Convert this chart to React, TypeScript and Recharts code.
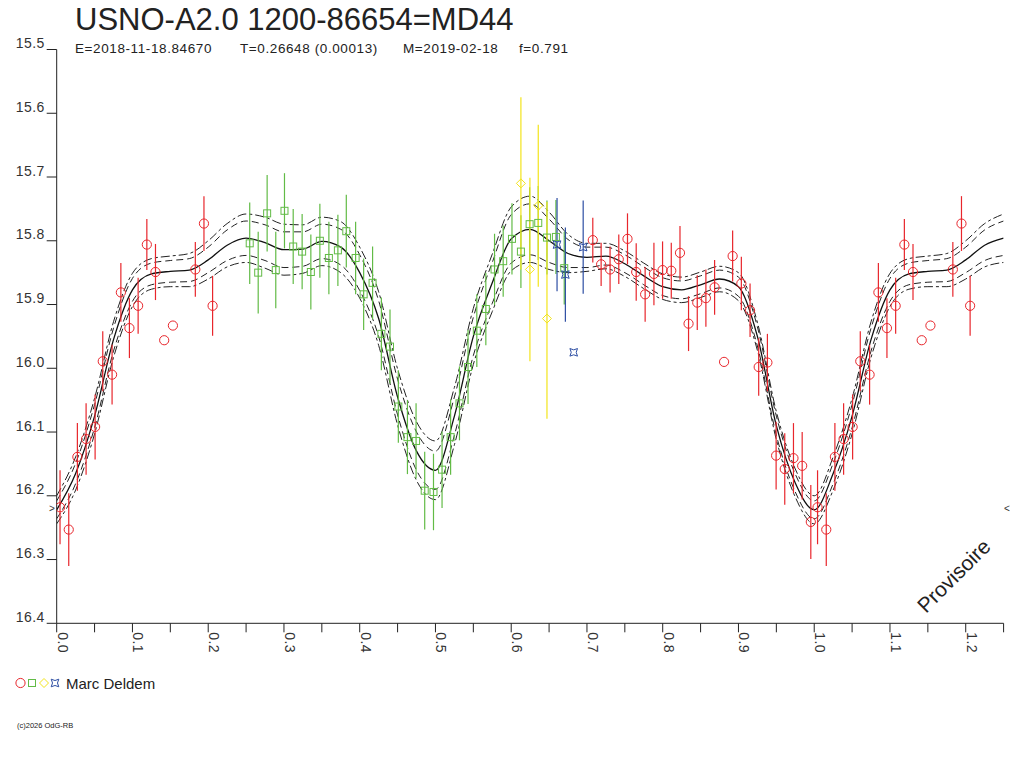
import React from 'react'
import { ComposedChart, Line, Scatter, XAxis, YAxis, ErrorBar } from 'recharts'

// observations: phase, magnitude, half error bar (0 = no bar)
const redPhase = [
  0.0044, 0.0159, 0.0273, 0.0388, 0.0507, 0.0608, 0.0731, 0.0847, 0.096, 0.1075,
  0.119, 0.1304, 0.1419, 0.1534, 0.183, 0.1944, 0.2058,
  0.7077, 0.7187, 0.7305, 0.742, 0.7535, 0.765, 0.7768, 0.7884, 0.7998, 0.8113,
  0.8228, 0.8341, 0.8456, 0.857, 0.8685, 0.881, 0.8923, 0.9038, 0.9153, 0.9267,
  0.9382, 0.9497, 0.9611, 0.9726, 0.9841, 0.9955,
]
const redMag = [
  16.218, 16.253, 16.139, 16.111, 16.092, 15.989, 16.01, 15.881, 15.937, 15.902,
  15.806, 15.849, 15.956, 15.933, 15.845, 15.773, 15.902,
  15.799, 15.837, 15.845, 15.829, 15.797, 15.849, 15.884, 15.852, 15.846, 15.847,
  15.819, 15.93, 15.897, 15.89, 15.873, 15.99, 15.824, 15.867, 15.909, 15.998,
  15.991, 16.137, 16.158, 16.141, 16.153, 16.241,
]
const redErr = [
  0.058, 0.057, 0.053, 0.056, 0.051, 0.047, 0.047, 0.046, 0.047, 0.044,
  0.04, 0.044, 0, 0, 0.043, 0.043, 0.047,
  0.035, 0.034, 0.036, 0.039, 0.04, 0.045, 0.043, 0.049, 0.045, 0.044,
  0.042, 0.043, 0.043, 0.045, 0.043, 0, 0.04, 0.042, 0.042, 0.045,
  0.045, 0.053, 0.056, 0.055, 0.053, 0.058,
]

const greenPhase = [
  0.2548, 0.266, 0.2778, 0.2892, 0.3007, 0.3122, 0.324, 0.3355, 0.3474, 0.3593,
  0.3712, 0.3823, 0.3946, 0.4052, 0.417, 0.4286, 0.44, 0.451, 0.463, 0.4744,
  0.4858, 0.4974, 0.5087, 0.52, 0.5317, 0.543, 0.5546, 0.5665, 0.578, 0.5894,
  0.601, 0.6128, 0.6243, 0.6357, 0.6472, 0.659, 0.67,
]
const greenMag = [
  15.804, 15.85, 15.757, 15.846, 15.753, 15.809, 15.817, 15.849, 15.8, 15.827,
  15.815, 15.785, 15.827, 15.884, 15.866, 15.946, 15.966, 16.06, 16.108, 16.114,
  16.192, 16.194, 16.159, 16.108, 16.055, 15.998, 15.941, 15.907, 15.845, 15.832,
  15.797, 15.817, 15.774, 15.772, 15.795, 15.794, 15.843,
]
const greenErr = [
  0.064, 0.064, 0.06, 0.06, 0.059, 0.059, 0.059, 0.059, 0.058, 0.057,
  0.056, 0.057, 0.057, 0.056, 0.057, 0.057, 0.058, 0.057, 0.058, 0.059,
  0.061, 0.06, 0.06, 0.059, 0.058, 0.058, 0.057, 0.057, 0.056, 0.056,
  0.056, 0.057, 0.058, 0.058, 0.058, 0.058, 0.057,
]

const yellowPhase = [0.6128, 0.6247, 0.6357, 0.6472]
const yellowMag = [15.71, 15.845, 15.745, 15.922]
const yellowErr = [[0.135, 0.135], [0.144, 0.144], [0.127, 0.127], [0.183, 0.157]]

const bluePhase = [0.6605, 0.6715, 0.6825, 0.695]
const blueMag = [15.806, 15.853, 15.975, 15.81]
const blueErr = [0.073, 0.074, 0, 0.073]

// fitted light curve over one cycle, step 0.025
const fitPhase = [
  0, 0.025, 0.05, 0.075, 0.1, 0.125, 0.15, 0.175, 0.2, 0.225,
  0.25, 0.275, 0.3, 0.325, 0.35, 0.375, 0.4, 0.425, 0.45, 0.475,
  0.5, 0.525, 0.55, 0.575, 0.6, 0.625, 0.65, 0.675, 0.7, 0.725,
  0.75, 0.775, 0.8, 0.825, 0.85, 0.875, 0.9, 0.925, 0.95, 0.975, 1,
]
const fitMag = [
  16.222, 16.165, 16.075, 15.955, 15.877, 15.852, 15.848, 15.846, 15.83, 15.807,
  15.796, 15.803, 15.814, 15.813, 15.801, 15.81, 15.85, 15.922, 16.045, 16.13,
  16.16, 16.075, 15.95, 15.866, 15.797, 15.782, 15.8, 15.82, 15.826, 15.824,
  15.836, 15.855, 15.872, 15.877, 15.869, 15.86, 15.872, 15.95, 16.09, 16.18, 16.222,
]
const innerHalf = [
  0.014, 0.016, 0.018, 0.018, 0.018, 0.017, 0.017, 0.018, 0.02, 0.024,
  0.027, 0.028, 0.028, 0.027, 0.027, 0.028, 0.028, 0.028, 0.028, 0.03,
  0.03, 0.03, 0.03, 0.032, 0.038, 0.04, 0.034, 0.022, 0.016, 0.014,
  0.014, 0.014, 0.014, 0.014, 0.014, 0.014, 0.015, 0.015, 0.015, 0.014, 0.014,
]
const outerHalf = [
  0.022, 0.026, 0.028, 0.028, 0.026, 0.024, 0.024, 0.026, 0.03, 0.034,
  0.038, 0.04, 0.04, 0.038, 0.038, 0.04, 0.04, 0.042, 0.044, 0.046,
  0.046, 0.045, 0.044, 0.045, 0.05, 0.052, 0.045, 0.03, 0.022, 0.02,
  0.02, 0.02, 0.02, 0.02, 0.02, 0.02, 0.022, 0.022, 0.022, 0.022, 0.022,
]

const xTicks = [
  0, 0.05, 0.1, 0.15, 0.2, 0.25, 0.3, 0.35, 0.4, 0.45, 0.5, 0.55, 0.6,
  0.65, 0.7, 0.75, 0.8, 0.85, 0.9, 0.95, 1, 1.05, 1.1, 1.15, 1.2, 1.25,
]
const yTicks = [15.5, 15.6, 15.7, 15.8, 15.9, 16.0, 16.1, 16.2, 16.3, 16.4]

const RED = '#e8262c'
const GREEN = '#62bb46'
const YELLOW = '#f3e41c'
const BLUE = '#2d4ea3'
const INK = '#222'
const FONT = '"Liberation Sans", Arial, sans-serif'

const toPoints = (ph: number[], mag: number[], err: any[]) =>
  ph.map((p, i) => ({ x: p, y: mag[i], err: err[i] }))

// phases below 0.25 are drawn again one cycle later
const withRepeat = (pts: { x: number; y: number; err: any }[]) => [
  ...pts,
  ...pts.filter((p) => p.x + 1 <= 1.25).map((p) => ({ ...p, x: +(p.x + 1).toFixed(4) })),
]

const redData = withRepeat(toPoints(redPhase, redMag, redErr))
const greenData = withRepeat(toPoints(greenPhase, greenMag, greenErr))
const yellowData = toPoints(yellowPhase, yellowMag, yellowErr)
const blueData = toPoints(bluePhase, blueMag, blueErr)

const fitIdx = [...fitPhase.map((p, i) => ({ p, i })), ...fitPhase.slice(1, 11).map((p, k) => ({ p: p + 1, i: k + 1 }))]
const fitData = fitIdx.map(({ p, i }) => ({
  x: +p.toFixed(3),
  c: fitMag[i],
  iu: fitMag[i] - innerHalf[i],
  il: fitMag[i] + innerHalf[i],
  ou: fitMag[i] - outerHalf[i],
  ol: fitMag[i] + outerHalf[i],
}))

const Circle = (props: any) => (
  <circle cx={props.cx} cy={props.cy} r={4.6} fill="none" stroke={RED} strokeWidth={1} />
)
const Square = (props: any) => (
  <rect x={props.cx - 3.5} y={props.cy - 3.5} width={7} height={7} fill="none" stroke={GREEN} strokeWidth={1} />
)
const Diamond = (props: any) => (
  <path
    d={`M${props.cx} ${props.cy - 4.5}L${props.cx + 4.5} ${props.cy}L${props.cx} ${props.cy + 4.5}L${props.cx - 4.5} ${props.cy}Z`}
    fill="none"
    stroke={YELLOW}
    strokeWidth={1}
  />
)
const starPath = (cx: number, cy: number, r: number) =>
  `M${cx - r} ${cy - r}Q${cx} ${cy - r * 0.3} ${cx + r} ${cy - r}Q${cx + r * 0.3} ${cy} ${cx + r} ${cy + r}` +
  `Q${cx} ${cy + r * 0.3} ${cx - r} ${cy + r}Q${cx - r * 0.3} ${cy} ${cx - r} ${cy - r}Z`
const Star = (props: any) => (
  <path d={starPath(props.cx, props.cy, 3.8)} fill="none" stroke={BLUE} strokeWidth={1} />
)

const YTick = ({ x, y, payload }: any) => (
  <text x={x} y={y - 1.5} textAnchor="end" fontSize={14} fill="#333" fontFamily={FONT} letterSpacing={0.4}>
    {payload.value.toFixed(1)}
  </text>
)

const XTick = ({ x, y, payload }: any) => {
  const v = payload.value
  if (Math.round(v * 100) % 10 !== 0) return null
  const ty = y - 2
  return (
    <text
      x={x + 0.8}
      y={ty}
      transform={`rotate(90 ${x + 0.8} ${ty})`}
      textAnchor="start"
      fontSize={14}
      fill="#333"
      fontFamily={FONT}
      letterSpacing={0.4}
    >
      {v.toFixed(1)}
    </text>
  )
}

export default function App() {
  return (
    <div style={{ position: 'relative', width: 1024, height: 768, background: '#fff' }}>
      <style>{'body{margin:0}'}</style>
      <ComposedChart
        width={1024}
        height={768}
        data={fitData}
        margin={{ top: 49.5, right: 20.4, bottom: 0, left: 0 }}
      >
        <XAxis
          dataKey="x"
          type="number"
          domain={[0, 1.25]}
          ticks={xTicks}
          allowDataOverflow
          height={144.7}
          tickSize={9}
          interval={0}
          axisLine={{ stroke: INK }}
          tickLine={{ stroke: INK }}
          tick={<XTick />}
        />
        <YAxis
          type="number"
          domain={[15.5, 16.4]}
          ticks={yTicks}
          reversed
          allowDataOverflow
          width={56.7}
          tickSize={10}
          interval={0}
          axisLine={{ stroke: INK }}
          tickLine={{ stroke: INK }}
          tick={<YTick />}
        />
        <Line dataKey="ou" type="monotone" stroke={INK} strokeWidth={1} strokeDasharray="9 3 3 3" dot={false} isAnimationActive={false} />
        <Line dataKey="iu" type="monotone" stroke={INK} strokeWidth={1} strokeDasharray="7 4" dot={false} isAnimationActive={false} />
        <Line dataKey="c" type="monotone" stroke="#111" strokeWidth={1.3} dot={false} isAnimationActive={false} />
        <Line dataKey="il" type="monotone" stroke={INK} strokeWidth={1} strokeDasharray="7 4" dot={false} isAnimationActive={false} />
        <Line dataKey="ol" type="monotone" stroke={INK} strokeWidth={1} strokeDasharray="9 3 3 3" dot={false} isAnimationActive={false} />
        <Scatter data={redData} dataKey="y" shape={<Circle />} isAnimationActive={false}>
          <ErrorBar dataKey="err" direction="y" width={0} stroke={RED} strokeWidth={1.2} />
        </Scatter>
        <Scatter data={greenData} dataKey="y" shape={<Square />} isAnimationActive={false}>
          <ErrorBar dataKey="err" direction="y" width={0} stroke={GREEN} strokeWidth={1.2} />
        </Scatter>
        <Scatter data={yellowData} dataKey="y" shape={<Diamond />} isAnimationActive={false}>
          <ErrorBar dataKey="err" direction="y" width={0} stroke={YELLOW} strokeWidth={1.2} />
        </Scatter>
        <Scatter data={blueData} dataKey="y" shape={<Star />} isAnimationActive={false}>
          <ErrorBar dataKey="err" direction="y" width={0} stroke={BLUE} strokeWidth={1.2} />
        </Scatter>
      </ComposedChart>
      <svg
        width={1024}
        height={768}
        style={{ position: 'absolute', left: 0, top: 0, pointerEvents: 'none' }}
        fontFamily={FONT}
      >
        <text x={75} y={30} fontSize={31} fill={INK}>USNO-A2.0 1200-86654=MD44</text>
        <g fontSize={13.5} fill={INK} letterSpacing={0.6}>
          <text x={75} y={52.5}>E=2018-11-18.84670</text>
          <text x={240} y={52.5}>T=0.26648 (0.00013)</text>
          <text x={403} y={52.5}>M=2019-02-18</text>
          <text x={519} y={52.5}>f=0.791</text>
        </g>
        <text x={49} y={512} fontSize={10} fill="#333">&gt;</text>
        <text x={1004} y={512} fontSize={10} fill="#333">&lt;</text>
        <text
          x={955}
          y={577}
          fontSize={21}
          fill="#222"
          textAnchor="middle"
          dominantBaseline="middle"
          transform="rotate(-45 955 577)"
        >
          Provisoire
        </text>
        <circle cx={20.5} cy={683} r={4.6} fill="none" stroke={RED} />
        <rect x={28.5} y={679.5} width={7} height={7} fill="none" stroke={GREEN} />
        <path d="M44 678.5L48.5 683L44 687.5L39.5 683Z" fill="none" stroke={YELLOW} />
        <path d={starPath(55, 683, 3.8)} fill="none" stroke={BLUE} />
        <text x={66} y={688.5} fontSize={15} fill={INK}>Marc Deldem</text>
        <text x={17} y={728} fontSize={7.5} fill={INK}>(c)2026 OdG-RB</text>
      </svg>
    </div>
  )
}
